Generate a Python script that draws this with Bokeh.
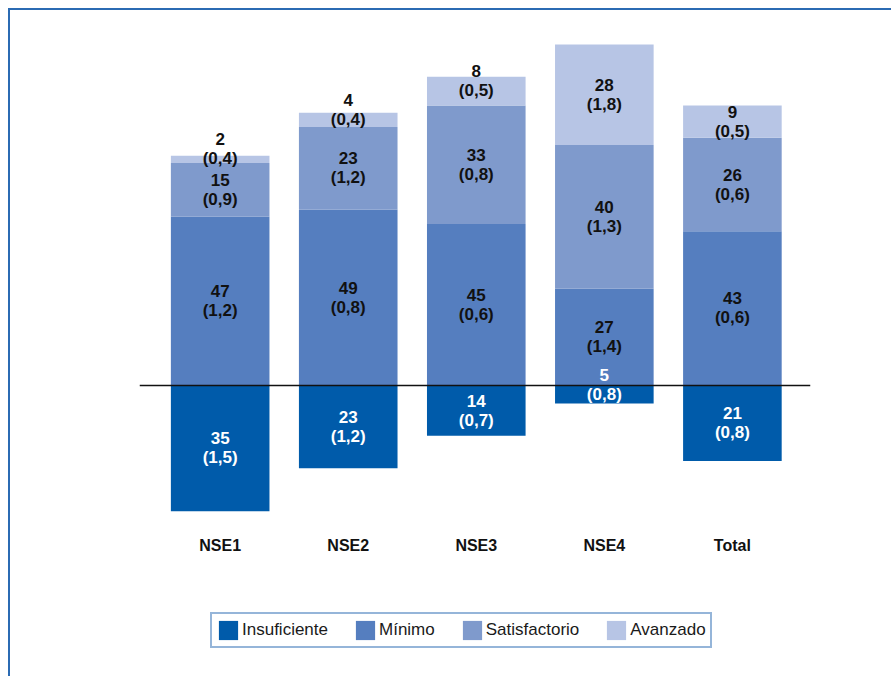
from bokeh.plotting import figure
from bokeh.models import Range1d, Span, Legend, LegendItem, ColumnDataSource
from bokeh.core.properties import value
from bokeh.embed import file_html
from bokeh.resources import INLINE

# ---- data ----
categories = ["NSE1", "NSE2", "NSE3", "NSE4", "Total"]
insuficiente = [35, 23, 14, 5, 21]
minimo = [47, 49, 45, 27, 43]
satisfactorio = [15, 23, 33, 40, 26]
avanzado = [2, 4, 8, 28, 9]
se_insuficiente = ["1,5", "1,2", "0,7", "0,8", "0,8"]
se_minimo = ["1,2", "0,8", "0,6", "1,4", "0,6"]
se_satisfactorio = ["0,9", "1,2", "0,8", "1,3", "0,6"]
se_avanzado = ["0,4", "0,4", "0,5", "1,8", "0,5"]
series_names = ["Insuficiente", "Mínimo", "Satisfactorio", "Avanzado"]
colors = ["#005BAA", "#557EBF", "#7F9ACC", "#B7C5E5"]

FONT = "Liberation Sans"
PX_PER_UNIT = 3.59
BAR_W = 0.77
FRAME_COLOR = "#2B6BB3"

xs = list(range(len(categories)))

p = figure(width=891, height=676, output_backend="svg", toolbar_location=None,
           x_range=Range1d(-0.63, 4.61), y_range=Range1d(-78.8, 98.9),
           x_axis_type=None, y_axis_type=None,
           min_border_left=139, min_border_right=81, min_border_top=30, min_border_bottom=8)
p.outline_line_color = None
p.grid.visible = False
p.border_fill_color = None
p.background_fill_color = None
p.styles = {
    "background": (f"linear-gradient({FRAME_COLOR}, {FRAME_COLOR}) 8px 8px / 100% 2px no-repeat, "
                   f"linear-gradient({FRAME_COLOR}, {FRAME_COLOR}) 8px 8px / 2px 100% no-repeat, white"),
}

# stacked segments
neg_bottom = [-v for v in insuficiente]
b1 = [0] * len(xs)
t1 = minimo
t2 = [a + b for a, b in zip(t1, satisfactorio)]
t3 = [a + b for a, b in zip(t2, avanzado)]

r_ins = p.vbar(x=xs, width=BAR_W, bottom=neg_bottom, top=b1, fill_color=colors[0], line_color=None)
r_min = p.vbar(x=xs, width=BAR_W, bottom=b1, top=t1, fill_color=colors[1], line_color=None)
r_sat = p.vbar(x=xs, width=BAR_W, bottom=t1, top=t2, fill_color=colors[2], line_color=None)
r_ava = p.vbar(x=xs, width=BAR_W, bottom=t2, top=t3, fill_color=colors[3], line_color=None)

p.add_layout(Span(location=0, dimension="width", line_color="#111111", line_width=1.5))

# value labels
LINE_PX = 20
lx, ly, lt, lc = [], [], [], []
segments = [
    (neg_bottom, b1, insuficiente, se_insuficiente, "white"),
    (b1, t1, minimo, se_minimo, "#111111"),
    (t1, t2, satisfactorio, se_satisfactorio, "#111111"),
    (t2, t3, avanzado, se_avanzado, "#111111"),
]
for bots, tops, vals, ses, col in segments:
    for i in xs:
        mid = (bots[i] + tops[i]) / 2
        if vals[i] < 9:
            mid += (LINE_PX / 2) / PX_PER_UNIT
        lx.append(i)
        ly.append(mid)
        lt.append(f"{vals[i]}\n({ses[i]})")
        lc.append(col)
src = ColumnDataSource(dict(x=lx, y=ly, text=lt, color=lc))
p.text(x="x", y="y", text="text", source=src, text_color="color",
       text_font=value(FONT), text_font_style="bold", text_font_size="17px",
       text_align="center", text_baseline="middle", text_line_height=1.0)

# category labels (below the bars)
CAT_Y = -160 / PX_PER_UNIT
p.text(x=xs, y=[CAT_Y] * len(xs), text=categories, text_color="#111111",
       text_font=value(FONT), text_font_style="bold", text_font_size="16px",
       text_align="center", text_baseline="middle")

legend = Legend(items=[LegendItem(label=n, renderers=[r]) for n, r in
                       zip(series_names, [r_ins, r_min, r_sat, r_ava])],
                orientation="horizontal", location=(71, 20))
legend.label_text_font = FONT
legend.label_text_font_size = "17px"
legend.label_text_color = "#1a1a1a"
legend.glyph_width = 24
legend.glyph_height = 24
legend.label_height = 20
legend.label_standoff = 2
legend.spacing = 25
legend.padding = 4
legend.margin = 0
legend.border_line_color = FRAME_COLOR
legend.border_line_width = 2
legend.background_fill_color = "white"
legend.background_fill_alpha = 1
p.add_layout(legend, "center")

open("out.html", "w").write(file_html(p, INLINE))
